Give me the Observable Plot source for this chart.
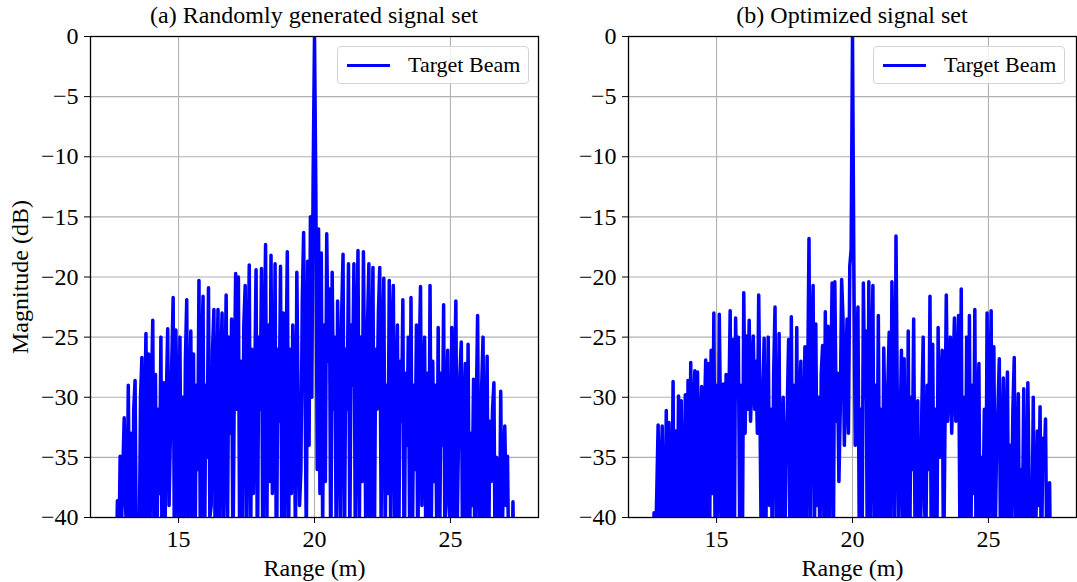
<!DOCTYPE html>
<html>
<head>
<meta charset="utf-8">
<script src="https://cdn.jsdelivr.net/npm/d3@7"></script>
<script src="https://cdn.jsdelivr.net/npm/@observablehq/plot@0.6"></script>
<style>
html, body { margin: 0; padding: 0; background: #fff; }
#wrap { position: relative; width: 1077px; height: 582px; overflow: hidden; font-family: "Liberation Serif", "Times New Roman", Tinos, "DejaVu Serif", "Noto Serif", serif; color: #000; }
.panel { position: absolute; top: 0; }
.title { position: absolute; top: 1px; font-size: 24px; line-height: 28px; white-space: nowrap; transform: translateX(-50%); }
.legend { position: absolute; box-sizing: border-box; width: 192px; height: 38px; border: 1px solid #d4d4d4; border-radius: 4px; background: rgba(255,255,255,0.8); }
.legend .swatch { position: absolute; left: 9px; top: 17px; width: 43px; height: 3px; background: #0000ff; }
.legend .lab { position: absolute; left: 70px; top: 4px; font-size: 22px; line-height: 28px; white-space: nowrap; }
</style>
</head>
<body>
<div id="wrap">
  <div class="title" style="left:314px">(a) Randomly generated signal set</div>
  <div class="title" style="left:852px">(b) Optimized signal set</div>
</div>
<script>
// Sampling grid of the range axis (m)
const rangeStart = 12.5;
const rangeStep = 0.05;

// Axis ticks
const xTicks = [15, 20, 25];
const yTicks = [-40, -35, -30, -25, -20, -15, -10, -5, 0];

// (a) Randomly generated signal set, magnitude in dB (values below -40 fall off the chart)
const magRandom = [
  -50, -48, -52, -47, -45, -38.6, -44, -34.9, -41, -36,
  -31.7, -39, -42, -29, -42, -33, -45, -31, -28.6, -44,
  -41, -44, -30, -26.7, -46, -32, -24.7, -43, -26.4, -41,
  -30, -23.6, -44, -28.1, -45, -31, -38, -25, -47, -28.8,
  -42, -30, -24.3, -39, -33, -27, -21.7, -45, -24.4, -32,
  -41, -25, -43, -30, -43, -27, -21.9, -44, -31, -24.5,
  -41, -26.4, -46, -29, -36, -20.3, -42, -27, -21.6, -46,
  -29, -35, -20.9, -40, -39, -26, -22.7, -45, -30, -22.7,
  -43, -28, -23, -42, -30, -21.5, -41, -25, -33, -23.5,
  -44, -29, -19.7, -31, -20, -44, -27, -42, -24, -20.7,
  -41, -28, -19, -43, -26, -38, -29, -19.4, -45, -25,
  -31, -19.3, -45, -27, -17.3, -40, -24, -37, -18.2, -38,
  -35, -18.9, -47, -26, -32, -19.1, -44, -23, -44, -28,
  -17.9, -41, -26, -38, -24, -30, -42, -19.6, -31, -39,
  -36, -22, -16.3, -29, -42, -18.7, -34, -15, -30, -11.7,
  0, -13, -36, -16, -38, -18, -41, -24, -37, -16.4,
  -27, -21, -45, -19.6, -31, -25, -43, -22, -29, -40,
  -23, -18.1, -44, -26, -31, -18.9, -42, -24, -29, -18.9,
  -42, -27, -17.8, -41, -25, -37, -17.9, -30, -46, -24,
  -18.9, -43, -28, -19.2, -44, -26, -31, -23, -19.2, -40,
  -27, -20.1, -42, -29, -38, -20.3, -40, -25, -20.7, -44,
  -30, -24, -43, -27, -32, -21.9, -46, -28, -34, -25,
  -41, -21.7, -43, -29, -36, -24, -44, -27, -20.8, -39,
  -30, -25, -45, -28, -41, -20.7, -40, -27, -37, -29,
  -42, -24.2, -45, -28, -34, -22.3, -44, -31, -26.1, -39,
  -41, -24.2, -46, -29, -22, -41, -33, -28, -25.4, -45,
  -31, -27.2, -42, -25.6, -44, -33, -39, -28.5, -44, -31,
  -23.2, -40, -43, -29, -25, -43, -34, -26.6, -46, -32,
  -37, -31, -28.8, -46, -35, -40, -44, -29.5, -42, -37,
  -32.4, -39, -34.9, -45, -41, -48, -38.7, -47, -52, -50,
  -53
];

// (b) Optimized signal set, magnitude in dB
const magOptimized = [
  -55, -52, -48, -44, -39.6, -43, -37.9, -32.3, -41, -37,
  -32.4, -44, -42, -31.1, -46, -32.1, -45, -41, -28.7, -47,
  -32.8, -42, -29.9, -44, -30.3, -43, -40, -29.8, -45, -28.6,
  -42, -27.1, -46, -31, -27.8, -44, -27.9, -41, -33, -29.1,
  -44, -32, -26.9, -45, -27.2, -40, -26.1, -38, -23.0, -44,
  -29, -42, -23.1, -33, -42, -28.9, -43, -28.1, -45, -31,
  -22.8, -41, -25.2, -45, -23.4, -30, -25, -41, -29, -43,
  -21.3, -33, -24.9, -31, -23.6, -32, -28, -24.9, -31, -27,
  -33, -21.5, -32, -44, -30, -25.1, -44, -33, -25, -39,
  -31, -43, -28, -22.5, -40, -41, -24.7, -45, -34, -30,
  -45, -35, -31, -25.2, -44, -23.3, -42, -29, -40, -24.2,
  -43, -31, -27, -43, -34, -25.8, -45, -29, -16.8, -40,
  -26, -20.7, -42, -23.9, -39, -30, -43, -28, -25.7, -41,
  -22.9, -40, -24.1, -44, -29, -20.5, -41, -20.4, -32, -28,
  -37, -31, -20.2, -23.4, -34, -28, -23.5, -33, -19.1, -17.7,
  0, -19.2, -34, -27, -22.5, -42, -31, -45, -20.5, -30,
  -24.5, -46, -20.4, -41, -28, -20.7, -44, -29, -40, -23.2,
  -42, -31, -44, -25.9, -33, -46, -29, -24.6, -42, -20.4,
  -28, -43, -16.6, -31, -40, -33, -26.1, -44, -26.8, -44,
  -41, -24.5, -45, -30, -36, -23.5, -41, -35, -30.3, -46,
  -43, -31, -25, -39, -42, -29, -36, -21.6, -44, -25.6,
  -42, -31, -45, -24.2, -35, -30, -26.1, -45, -33, -21.5,
  -32, -29, -25, -33, -28, -23.4, -32, -29, -23.2, -41,
  -21, -46, -30, -42, -25, -43, -23.2, -44, -29, -38,
  -22.7, -45, -31, -27.2, -47, -35, -40, -31, -44, -23,
  -41, -30, -22.8, -46, -25.8, -42, -34, -31, -26.8, -45,
  -35, -28.4, -44, -33, -27.9, -46, -34, -40, -31, -26.7,
  -44, -35, -29.7, -46, -36, -41, -29.3, -41, -45, -28.8,
  -38, -43, -42, -30, -46, -40, -32.8, -39, -30.8, -45,
  -33.4, -36, -31.8, -44, -40, -37.1, -48, -50, -53, -55,
  -57
];

const seriesName = "Target Beam";
const xLabel = "Range (m)";
const yLabel = "Magnitude (dB)";

function makePanel(mag, o) {
  const data = mag.map((m, i) => ({range: rangeStart + i * rangeStep, mag: m}));
  const fmt = d3.format("d");
  return Plot.plot({
    width: o.width,
    height: 582,
    marginLeft: o.ml,
    marginRight: o.mr,
    marginTop: 36,
    marginBottom: 65,
    style: {fontFamily: "'Liberation Serif', 'Times New Roman', Tinos, 'DejaVu Serif', serif", fontSize: "24px", color: "black", background: "transparent", overflow: "visible"},
    x: {domain: [11.76, 28.24]},
    y: {domain: [-40, 0]},
    marks: [
      Plot.gridX(xTicks, {stroke: "#b0b0b0", strokeOpacity: 1, strokeWidth: 1.1}),
      Plot.gridY(yTicks, {stroke: "#b0b0b0", strokeOpacity: 1, strokeWidth: 1.1}),
      Plot.line(data, {x: "range", y: "mag", stroke: "#0000ff", strokeWidth: 3.5, clip: true}),
      Plot.frame({stroke: "black", strokeWidth: 1.3}),
      Plot.axisX(xTicks, {tickSize: 6, tickPadding: 6, tickFormat: fmt, label: xLabel, labelAnchor: "center", labelArrow: "none", labelOffset: 58}),
      Plot.axisY(yTicks, {tickSize: 6, tickPadding: 6, tickFormat: fmt, label: o.ylabel, labelAnchor: "center", labelArrow: "none", labelOffset: 80})
    ]
  });
}

const wrap = document.getElementById("wrap");
const pa = makePanel(magRandom, {width: 550, ml: 90, mr: 12, ylabel: yLabel});
pa.classList.add("panel"); pa.style.left = "0px";
const pb = makePanel(magOptimized, {width: 527, ml: 78, mr: 1, ylabel: null});
pb.classList.add("panel"); pb.style.left = "550px";
wrap.appendChild(pa);
wrap.appendChild(pb);

function addLegend(left, top) {
  const lg = document.createElement("div");
  lg.className = "legend";
  lg.style.left = left + "px";
  lg.style.top = top + "px";
  lg.innerHTML = '<div class="swatch"></div><div class="lab">' + seriesName + '</div>';
  wrap.appendChild(lg);
}
addLegend(337, 46);
addLegend(873, 46);
</script>
</body>
</html>
